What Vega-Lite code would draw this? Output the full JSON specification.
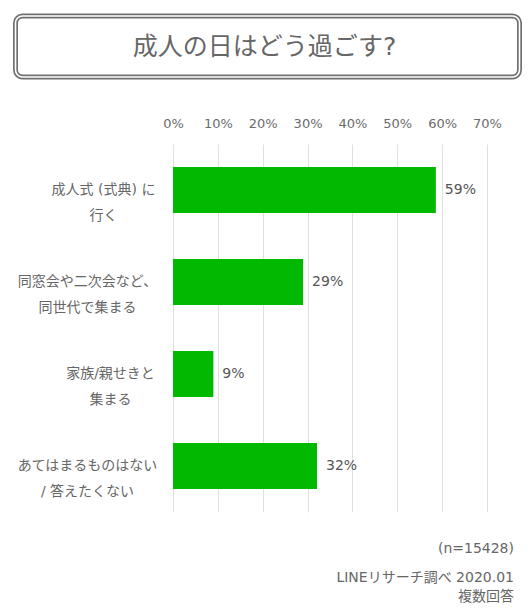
{
  "$schema": "https://vega.github.io/schema/vega-lite/v6.json",
  "background": "white",
  "padding": {"left": 13, "top": 13, "right": 0, "bottom": 0},
  "spacing": 37,
  "config": {
    "font": "DejaVu Sans, Noto Sans CJK JP",
    "view": {"stroke": null}
  },
  "vconcat": [
    {
      "width": 346.5,
      "height": 61,
      "data": {"values": [{"heading": "成人の日はどう過ごす?", "left": -0.4545, "right": 1, "mid": 0.2727}]},
      "layer": [
        {
          "mark": {"type": "rect", "fill": "white", "fillOpacity": 0, "stroke": "#707070", "strokeWidth": 5, "cornerRadius": 7},
          "encoding": {
            "x": {"field": "left", "type": "quantitative", "scale": {"domain": [0, 1]}, "axis": null},
            "x2": {"field": "right"},
            "y": {"datum": 0, "type": "quantitative", "scale": {"domain": [0, 1]}, "axis": null},
            "y2": {"datum": 1}
          }
        },
        {
          "mark": {"type": "rect", "fill": "white", "fillOpacity": 0, "stroke": "white", "strokeWidth": 1.6, "cornerRadius": 7},
          "encoding": {
            "x": {"field": "left", "type": "quantitative"},
            "x2": {"field": "right"},
            "y": {"datum": 0, "type": "quantitative"},
            "y2": {"datum": 1}
          }
        },
        {
          "mark": {"type": "text", "fontSize": 25, "color": "#666666", "dx": -3},
          "encoding": {
            "text": {"field": "heading"},
            "x": {"field": "mid", "type": "quantitative"},
            "y": {"datum": 0.5, "type": "quantitative"}
          }
        }
      ]
    },
    {
      "width": 314,
      "height": 368,
      "data": {
        "values": [
          {"item": "成人式 (式典) に\n行く", "share": 0.586},
          {"item": "同窓会や二次会など、\n同世代で集まる", "share": 0.29},
          {"item": "家族/親せきと\n集まる", "share": 0.09},
          {"item": "あてはまるものはない\n/ 答えたくない", "share": 0.321}
        ]
      },
      "title": {
        "text": "(n=15428)",
        "subtitle": ["LINEリサーチ調べ 2020.01", "複数回答"],
        "orient": "bottom",
        "anchor": "end",
        "frame": "group",
        "dx": 27,
        "offset": 30,
        "fontSize": 14,
        "fontWeight": "normal",
        "color": "#666666",
        "subtitleFontSize": 14,
        "subtitleColor": "#666666",
        "subtitlePadding": 15,
        "subtitleLineHeight": 19
      },
      "encoding": {
        "y": {
          "field": "item",
          "type": "nominal",
          "sort": null,
          "title": null,
          "scale": {"paddingInner": 0.5, "paddingOuter": 0.25},
          "axis": {
            "domain": false,
            "ticks": false,
            "tickSize": 0,
            "labelAlign": "center",
            "labelPadding": {
              "condition": [
                {"test": "indexof(datum.label, '成人式') === 0", "value": 70},
                {"test": "indexof(datum.label, '家族') === 0", "value": 63}
              ],
              "value": 86
            },
            "labelExpr": "split(datum.label, '\\n')",
            "labelLineHeight": 26,
            "labelFontSize": 14,
            "labelColor": "#666666",
            "labelLimit": 300
          }
        }
      },
      "layer": [
        {
          "mark": {"type": "bar", "color": "#00B900"},
          "encoding": {
            "x": {
              "field": "share",
              "type": "quantitative",
              "scale": {"domain": [0, 0.7]},
              "axis": {
                "orient": "top",
                "title": null,
                "values": [0, 0.1, 0.2, 0.3, 0.4, 0.5, 0.6, 0.7],
                "format": ".0%",
                "domain": false,
                "ticks": false,
                "labelFlush": false,
                "labelPadding": 14,
                "labelFontSize": 13,
                "labelColor": "#6b6b6b",
                "gridColor": "#e0e0e0"
              }
            }
          }
        },
        {
          "mark": {"type": "text", "align": "left", "baseline": "middle", "dx": 9, "fontSize": 14, "color": "#555555"},
          "encoding": {
            "x": {"field": "share", "type": "quantitative"},
            "text": {"field": "share", "type": "quantitative", "format": ".0%"}
          }
        }
      ]
    }
  ]
}
